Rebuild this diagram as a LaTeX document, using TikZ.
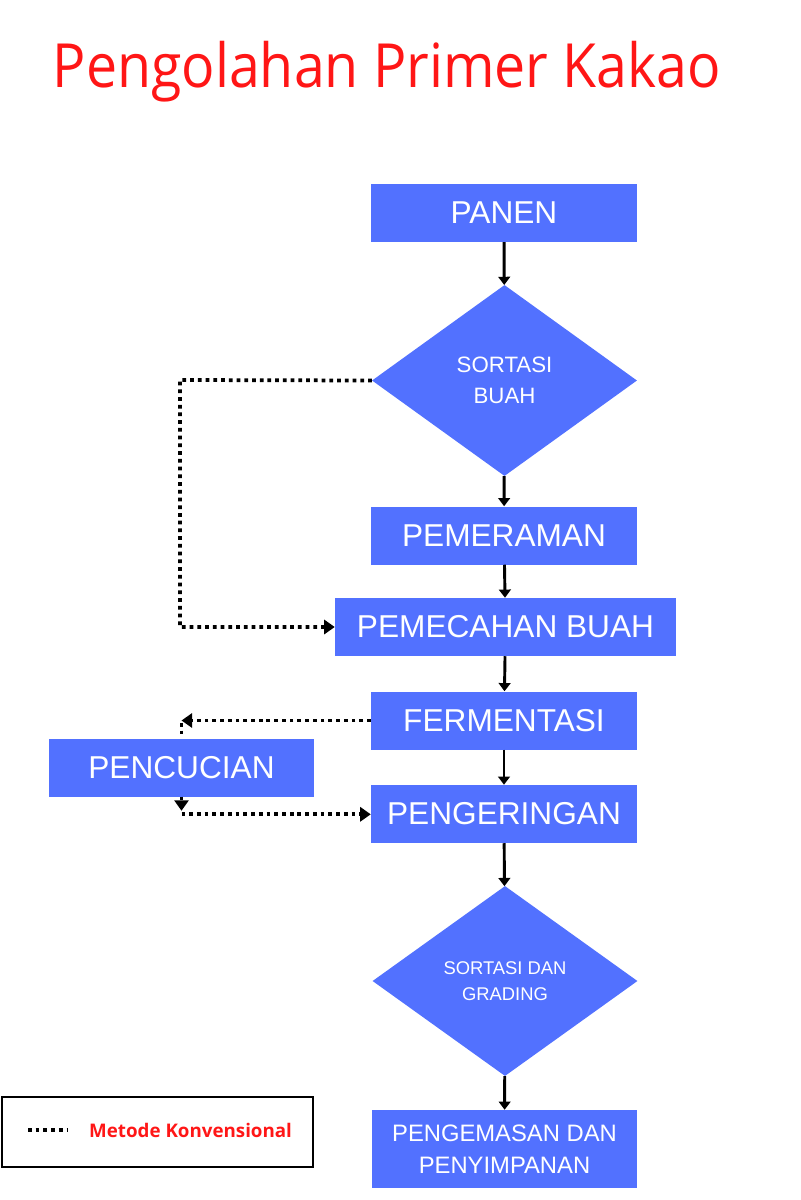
\documentclass[tikz,border=0pt]{standalone}
\usepackage{fontspec}
\setmainfont{Liberation Sans}
\newfontfamily\judulfont{Open Sans}
\newfontfamily\judulsempit[FakeStretch=0.91]{Open Sans}
\usetikzlibrary{arrows.meta,shapes.geometric,positioning}

\definecolor{kotakbiru}{HTML}{5271FF}
\definecolor{merahjudul}{HTML}{FF1616}

\tikzset{
  prosesbox/.style={rectangle, fill=kotakbiru, text=white, minimum width=7.98cm,
    minimum height=1.74cm, inner sep=0pt, align=center,
    font=\fontsize{27}{32}\selectfont},
  keputusan/.style={diamond, fill=kotakbiru, text=white, minimum width=7.95cm,
    minimum height=5.73cm, aspect=1.39, inner sep=0pt, align=center},
  alur/.style={line width=2.5pt, -{Triangle[length=7pt,width=10pt]}},
  titik/.style={line width=3.2pt, dash pattern=on 3.2pt off 3.4pt},
  alurtitik/.style={titik, -{Triangle[length=9pt,width=12pt]}}
}

\begin{document}
\begin{tikzpicture}[x=0.03cm, y=-0.03cm]

  \useasboundingbox (0,0) rectangle (800,1200);

  % Title
  \node (judul) at (387,87) [anchor=base, text=merahjudul, inner sep=0pt,
    font=\judulsempit\fontsize{52}{58}\selectfont] {Pengolahan Primer Kakao};

  % Main flow
  \node (panen) at (504,213) [prosesbox] {PANEN};
  \node (sortasi) at (504.5,380.5) [keputusan,
    font=\fontsize{19}{26.5}\selectfont] {SORTASI\\BUAH};
  \node (pemeraman) at (504,535.5) [prosesbox] {PEMERAMAN};
  \node (pemecahan) at (505.5,627) [prosesbox, minimum width=10.23cm] {PEMECAHAN BUAH};
  \node (fermentasi) at (504,720.5) [prosesbox] {FERMENTASI};
  \node (pencucian) at (181.5,767.5) [prosesbox, minimum width=7.95cm] {PENCUCIAN};
  \node (pengeringan) at (504,814) [prosesbox] {PENGERINGAN};
  \node (grading) at (505,981) [keputusan, minimum height=5.7cm,
    font=\fontsize{15.7}{22}\selectfont] {SORTASI DAN\\GRADING};
  \node (pengemasan) at (504.5,1149) [prosesbox, minimum width=7.95cm,
    minimum height=2.34cm, font=\fontsize{20.3}{27}\selectfont]
    {PENGEMASAN DAN\\PENYIMPANAN};

  % Solid arrows
  \draw [alur] (panen) -- (sortasi);
  \draw [alur] (sortasi) -- (pemeraman);
  \draw [alur] (pemeraman) -- (pemecahan);
  \draw [alur] (pemecahan) -- (fermentasi);
  \draw [alur] (fermentasi) -- (pengeringan);
  \draw [alur] (pengeringan) -- (grading);
  \draw [alur] (grading) -- (pengemasan);

  % Conventional route (dotted)
  \coordinate (belok) at (180,380);
  \draw [alurtitik] (sortasi.west) -- (belok) |- (pemecahan.west);
  \coordinate (atascuci) at (pencucian.north |- fermentasi.west);
  \draw [alurtitik] (fermentasi.west) -- (atascuci);
  \draw [titik] ([yshift=-2]atascuci) -- (pencucian.north);
  \coordinate (bawahcuci) at ([yshift=-15]pencucian.south);
  \draw [alurtitik, line cap=butt] (pencucian.south) -- ([yshift=-12]pencucian.south);
  \draw [alurtitik] (bawahcuci) -- (bawahcuci -| pengeringan.west);

  % Legend
  \node (legenda) at (157.5,1131.5) [draw, line width=1.7pt, minimum width=9.3cm,
    minimum height=2.1cm] {};
  \draw [titik] (28,1130) -- (68,1130);
  \node (keterangan) at (89,1130) [anchor=west, text=merahjudul, inner sep=0pt,
    font=\judulfont\bfseries\fontsize{16}{19}\selectfont] {Metode Konvensional};

\end{tikzpicture}
\end{document}
